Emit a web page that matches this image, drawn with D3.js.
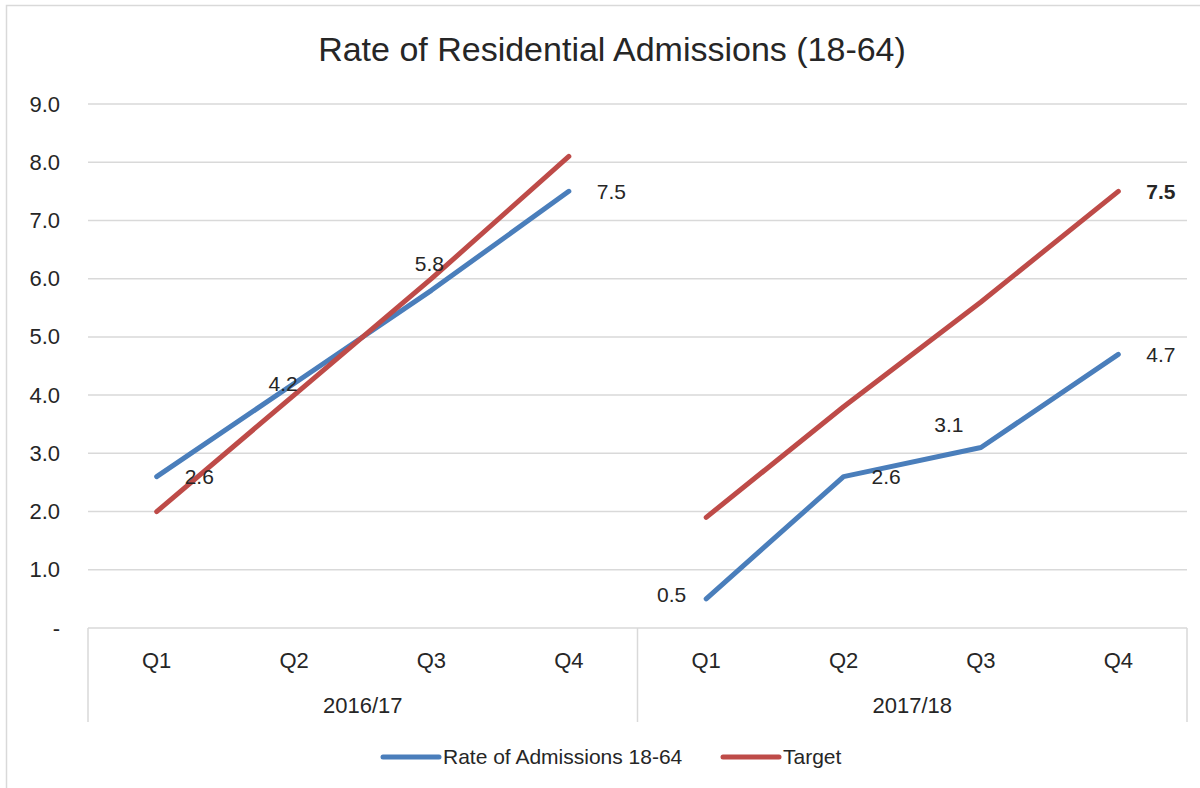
<!DOCTYPE html>
<html>
<head>
<meta charset="utf-8">
<script src="https://cdn.jsdelivr.net/npm/d3@7"></script>
<style>
  body { margin: 0; background: #fff; }
  text { font-family: "Liberation Sans", Arial, sans-serif; fill: #262626; }
</style>
</head>
<body>
<div id="chart"></div>
<script>
// data
const years = ["2016/17", "2017/18"];
const quarters = ["Q1", "Q2", "Q3", "Q4"];
const admissions = [[2.6, 4.2, 5.8, 7.5], [0.5, 2.6, 3.1, 4.7]];
const target = [[2.0, 4.0, 6.0, 8.1], [1.9, 3.8, 5.6, 7.5]];
const yTicks = [0, 1, 2, 3, 4, 5, 6, 7, 8, 9];
const seriesNames = ["Rate of Admissions 18-64", "Target"];

// where Excel put each data label (null = no label)
const admissionsLabels = [["right", "center", "above", "right"], ["left", "right", "aboveleft", "right"]];
const targetLabels = [[null, null, null, null], [null, null, null, "right"]];

const width = 1200, height = 788;
const margin = { top: 104, right: 13, bottom: 160, left: 88 };
const plotBottom = height - margin.bottom;

const blue = "#4a7ebb", red = "#be4b48", grid = "#d9d9d9";

const svg = d3.select("#chart")
  .append("svg")
  .attr("width", width)
  .attr("height", height);

// outer chart border
svg.append("rect")
  .attr("x", 6.5).attr("y", 5.5)
  .attr("width", width).attr("height", height)
  .attr("fill", "none").attr("stroke", grid).attr("stroke-width", 1.5);

// one band per quarter, grouped by year
const keys = [];
years.forEach(yr => quarters.forEach(q => keys.push(yr + "|" + q)));

const x = d3.scaleBand()
  .domain(keys)
  .range([margin.left, width - margin.right]);
const cx = (yi, qi) => x(years[yi] + "|" + quarters[qi]) + x.bandwidth() / 2;

const y = d3.scaleLinear()
  .domain([0, 9])
  .range([plotBottom, margin.top]);

// gridlines
svg.append("g")
  .selectAll("line")
  .data(yTicks.filter(d => d > 0))
  .join("line")
  .attr("x1", margin.left).attr("x2", width - margin.right)
  .attr("y1", d => y(d)).attr("y2", d => y(d))
  .attr("stroke", grid).attr("stroke-width", 1.5);

// y axis labels
const yAxis = svg.append("g")
  .attr("transform", `translate(${margin.left},0)`)
  .call(d3.axisLeft(y).tickValues(yTicks).tickSize(0).tickPadding(28)
    .tickFormat(d => d === 0 ? "-" : d.toFixed(1)));
yAxis.select(".domain").remove();
yAxis.selectAll("text")
  .attr("font-size", 22)
  .attr("font-family", "Liberation Sans, Arial, sans-serif")
  .attr("fill", "#262626");

// category axis box
const cat = svg.append("g");
cat.append("line")
  .attr("x1", margin.left).attr("x2", width - margin.right)
  .attr("y1", plotBottom).attr("y2", plotBottom)
  .attr("stroke", grid).attr("stroke-width", 1.5);
const dividers = years.map(yr => x(yr + "|" + quarters[0])).concat([width - margin.right]);
cat.selectAll(".div")
  .data(dividers)
  .join("line")
  .attr("x1", d => d).attr("x2", d => d)
  .attr("y1", plotBottom).attr("y2", plotBottom + 94)
  .attr("stroke", grid).attr("stroke-width", 1.5);

cat.selectAll(".q")
  .data(keys)
  .join("text")
  .attr("x", d => x(d) + x.bandwidth() / 2)
  .attr("y", plotBottom + 32)
  .attr("dy", "0.35em")
  .attr("text-anchor", "middle")
  .attr("font-size", 22)
  .text(d => d.split("|")[1]);

cat.selectAll(".yr")
  .data(years)
  .join("text")
  .attr("x", (d, i) => (dividers[i] + dividers[i + 1]) / 2)
  .attr("y", plotBottom + 77)
  .attr("dy", "0.35em")
  .attr("text-anchor", "middle")
  .attr("font-size", 22)
  .text(d => d);

// lines, broken between the two years
const line = d3.line()
  .x(d => d.x)
  .y(d => y(d.v));

function drawSeries(values, color) {
  values.forEach((vals, yi) => {
    const pts = vals.map((v, qi) => ({ x: cx(yi, qi), v: v }));
    svg.append("path")
      .datum(pts)
      .attr("d", line)
      .attr("fill", "none")
      .attr("stroke", color)
      .attr("stroke-width", 5)
      .attr("stroke-linecap", "round")
      .attr("stroke-linejoin", "round");
  });
}
drawSeries(admissions, blue);
drawSeries(target, red);

// data labels
const placement = {
  right: { dx: 28, dy: 0, anchor: "start" },
  left: { dx: -20, dy: -4, anchor: "end" },
  center: { dx: -11, dy: 0, anchor: "middle" },
  above: { dx: -2, dy: -27, anchor: "middle" },
  aboveleft: { dx: -32, dy: -23, anchor: "middle" }
};

function drawLabels(values, pos, bold) {
  const items = [];
  values.forEach((vals, yi) => vals.forEach((v, qi) => {
    if (pos[yi][qi]) items.push({ x: cx(yi, qi), v: v, p: placement[pos[yi][qi]] });
  }));
  svg.append("g")
    .selectAll("text")
    .data(items)
    .join("text")
    .attr("x", d => d.x + d.p.dx)
    .attr("y", d => y(d.v) + d.p.dy)
    .attr("dy", "0.35em")
    .attr("text-anchor", d => d.p.anchor)
    .attr("font-size", 21)
    .attr("font-weight", bold ? "bold" : "normal")
    .text(d => d.v.toFixed(1));
}
drawLabels(admissions, admissionsLabels, false);
drawLabels(target, targetLabels, true);

// title
svg.append("text")
  .attr("x", 612)
  .attr("y", 61)
  .attr("text-anchor", "middle")
  .attr("font-size", 34)
  .text("Rate of Residential Admissions (18-64)");

// legend
const legendX = [383, 723];
const legend = svg.append("g")
  .selectAll("g")
  .data(seriesNames)
  .join("g")
  .attr("transform", (d, i) => `translate(${legendX[i]},757)`);
legend.append("line")
  .attr("x1", 0).attr("x2", 56)
  .attr("stroke", (d, i) => i === 0 ? blue : red)
  .attr("stroke-width", 5)
  .attr("stroke-linecap", "round");
legend.append("text")
  .attr("x", 60)
  .attr("dy", "0.35em")
  .attr("font-size", 21)
  .text(d => d);
</script>
</body>
</html>
